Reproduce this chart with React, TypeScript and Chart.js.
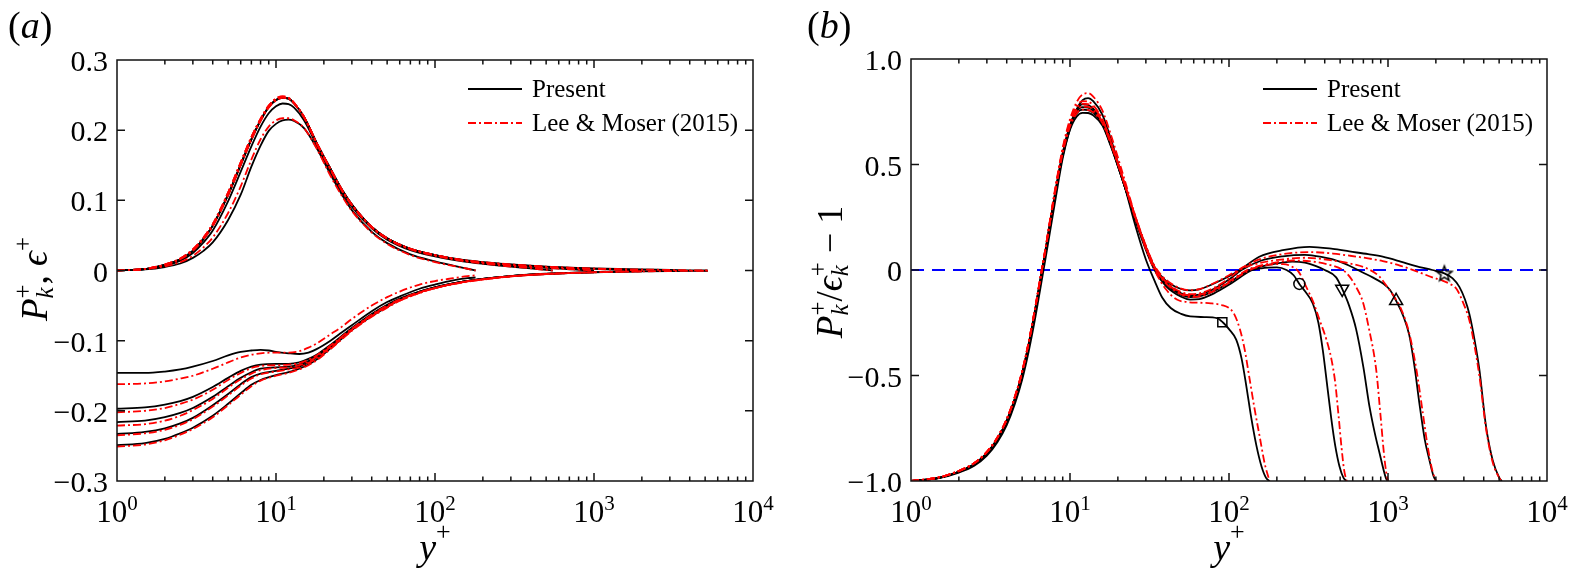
import { useEffect, useRef } from "react"
import { Chart, registerables } from "chart.js"

Chart.register(...registerables)

type Pt = [number, number]

// ---------- panel (a): production P_k^+ (> 0) and dissipation -eps^+ (< 0) ----------
const prodPresent180: Pt[] = [[1,0.0003],[1.5,0.0015],[2,0.005],[2.5,0.010],[3,0.018],[3.5,0.028],[4,0.040],[5,0.072],[6,0.108],[7,0.148],[8,0.178],[9,0.199],[10,0.209],[11,0.214],[12,0.215],[13,0.213],[15,0.203],[18,0.175],[22,0.137],[26,0.108],[30,0.086],[40,0.055],[50,0.039],[70,0.023],[100,0.013],[130,0.007],[160,0.0025],[180,0]]
const prodLM180: Pt[] = [[1,0.0003],[1.5,0.002],[2,0.006],[2.5,0.012],[3,0.021],[3.5,0.033],[4,0.047],[5,0.082],[6,0.120],[7,0.158],[8,0.187],[9,0.205],[10,0.214],[11,0.217],[12,0.217],[13,0.214],[15,0.203],[18,0.174],[22,0.135],[26,0.106],[30,0.085],[40,0.054],[50,0.038],[70,0.022],[100,0.012],[130,0.0065],[160,0.0025],[180,0]]
const prodPresent550: Pt[] = [[1,0.0003],[1.5,0.002],[2,0.007],[2.5,0.014],[3,0.025],[3.5,0.040],[4,0.057],[5,0.099],[6,0.141],[7,0.177],[8,0.205],[9,0.224],[10,0.234],[11,0.238],[12,0.237],[13,0.232],[15,0.214],[18,0.179],[22,0.141],[26,0.112],[30,0.091],[40,0.060],[50,0.044],[70,0.029],[100,0.020],[150,0.013],[200,0.0095],[300,0.0055],[400,0.003],[480,0.0012],[550,0]]
const prodLM550: Pt[] = [[1,0.0003],[1.5,0.002],[2,0.008],[2.5,0.016],[3,0.028],[3.5,0.045],[4,0.063],[5,0.107],[6,0.150],[7,0.186],[8,0.213],[9,0.232],[10,0.242],[11,0.246],[12,0.245],[13,0.238],[15,0.219],[18,0.182],[22,0.144],[26,0.114],[30,0.093],[40,0.061],[50,0.045],[70,0.030],[100,0.021],[150,0.0135],[200,0.0098],[300,0.0057],[400,0.0032],[480,0.0013],[550,0]]
const prodPresent1000: Pt[] = [[1,0.0003],[1.5,0.002],[2,0.008],[2.5,0.016],[3,0.028],[3.5,0.045],[4,0.064],[5,0.108],[6,0.151],[7,0.187],[8,0.214],[9,0.233],[10,0.243],[11,0.246],[12,0.245],[13,0.238],[15,0.219],[18,0.182],[22,0.145],[26,0.115],[30,0.094],[40,0.062],[50,0.046],[70,0.031],[100,0.022],[150,0.0145],[200,0.011],[300,0.0074],[500,0.0038],[700,0.0018],[850,0.0007],[1000,0]]
const prodLM1000: Pt[] = [[1,0.0003],[1.5,0.0022],[2,0.0085],[2.5,0.017],[3,0.030],[3.5,0.047],[4,0.066],[5,0.111],[6,0.154],[7,0.190],[8,0.216],[9,0.234],[10,0.244],[11,0.247],[12,0.245],[13,0.238],[15,0.218],[18,0.181],[22,0.144],[26,0.114],[30,0.093],[40,0.062],[50,0.046],[70,0.031],[100,0.022],[150,0.0145],[200,0.011],[300,0.0074],[500,0.0038],[700,0.0019],[850,0.0008],[1000,0]]
const prodPresent2000: Pt[] = [[1,0.0003],[1.5,0.002],[2,0.008],[2.5,0.016],[3,0.028],[3.5,0.045],[4,0.064],[5,0.108],[6,0.151],[7,0.187],[8,0.214],[9,0.233],[10,0.243],[11,0.246],[12,0.245],[13,0.238],[15,0.219],[18,0.182],[22,0.145],[26,0.115],[30,0.094],[40,0.062],[50,0.046],[70,0.031],[100,0.022],[150,0.0148],[200,0.0115],[300,0.0082],[500,0.0052],[700,0.0036],[1000,0.0022],[1400,0.0011],[1700,0.0005],[2000,0]]
const prodLM2000: Pt[] = [[1,0.0003],[1.5,0.0022],[2,0.0085],[2.5,0.017],[3,0.030],[3.5,0.047],[4,0.066],[5,0.111],[6,0.154],[7,0.190],[8,0.216],[9,0.235],[10,0.245],[11,0.248],[12,0.246],[13,0.239],[15,0.219],[18,0.182],[22,0.145],[26,0.115],[30,0.094],[40,0.062],[50,0.046],[70,0.031],[100,0.022],[150,0.0148],[200,0.0115],[300,0.0082],[500,0.0052],[700,0.0036],[1000,0.0022],[1400,0.0011],[1700,0.0005],[2000,0]]
const prodPresent5200: Pt[] = [[1,0.0003],[1.5,0.002],[2,0.008],[2.5,0.016],[3,0.028],[3.5,0.045],[4,0.064],[5,0.108],[6,0.151],[7,0.187],[8,0.214],[9,0.233],[10,0.243],[11,0.246],[12,0.245],[13,0.238],[15,0.219],[18,0.182],[22,0.145],[26,0.115],[30,0.094],[40,0.062],[50,0.046],[70,0.031],[100,0.022],[150,0.015],[200,0.012],[300,0.0088],[500,0.0056],[700,0.0041],[1000,0.0029],[2000,0.0014],[3000,0.0008],[4000,0.0003],[5200,0]]
const prodLM5200: Pt[] = [[1,0.0003],[1.5,0.0022],[2,0.0085],[2.5,0.017],[3,0.030],[3.5,0.047],[4,0.066],[5,0.111],[6,0.154],[7,0.190],[8,0.216],[9,0.235],[10,0.245],[11,0.248],[12,0.246],[13,0.239],[15,0.219],[18,0.182],[22,0.145],[26,0.115],[30,0.094],[40,0.062],[50,0.046],[70,0.031],[100,0.022],[150,0.015],[200,0.012],[300,0.0088],[500,0.0056],[700,0.0041],[1000,0.0029],[2000,0.0014],[3000,0.0008],[4000,0.0003],[5200,0]]

const dissPresent180: Pt[] = [[1,-0.146],[1.5,-0.146],[2,-0.144],[2.5,-0.141],[3,-0.137],[4,-0.129],[5,-0.121],[6,-0.116],[7,-0.114],[8,-0.113],[9,-0.114],[10,-0.116],[12,-0.118],[14,-0.119],[16,-0.117],[18,-0.112],[22,-0.100],[26,-0.088],[30,-0.078],[40,-0.058],[50,-0.045],[60,-0.037],[80,-0.026],[100,-0.020],[130,-0.014],[160,-0.011],[180,-0.010]]
const dissLM180: Pt[] = [[1,-0.162],[1.5,-0.161],[2,-0.158],[2.5,-0.154],[3,-0.150],[4,-0.140],[5,-0.131],[6,-0.124],[7,-0.120],[8,-0.118],[10,-0.117],[12,-0.117],[14,-0.115],[16,-0.110],[18,-0.104],[22,-0.091],[26,-0.080],[30,-0.069],[40,-0.050],[50,-0.038],[60,-0.030],[80,-0.020],[100,-0.015],[130,-0.011],[160,-0.008],[180,-0.007]]
const dissPresent550: Pt[] = [[1,-0.197],[1.5,-0.195],[2,-0.191],[2.5,-0.186],[3,-0.180],[4,-0.166],[5,-0.153],[6,-0.143],[7,-0.137],[8,-0.134],[10,-0.133],[12,-0.133],[14,-0.131],[16,-0.126],[18,-0.120],[22,-0.106],[26,-0.093],[30,-0.082],[40,-0.062],[50,-0.049],[60,-0.040],[80,-0.030],[100,-0.024],[150,-0.016],[200,-0.012],[300,-0.008],[400,-0.0055],[550,-0.004]]
const dissLM550: Pt[] = [[1,-0.202],[1.5,-0.200],[2,-0.196],[2.5,-0.190],[3,-0.184],[4,-0.170],[5,-0.156],[6,-0.146],[7,-0.139],[8,-0.136],[10,-0.135],[12,-0.134],[14,-0.132],[16,-0.127],[18,-0.121],[22,-0.107],[26,-0.094],[30,-0.083],[40,-0.063],[50,-0.050],[60,-0.041],[80,-0.031],[100,-0.025],[150,-0.017],[200,-0.013],[300,-0.0085],[400,-0.006],[550,-0.0045]]
const dissPresent1000: Pt[] = [[1,-0.216],[1.5,-0.214],[2,-0.209],[2.5,-0.203],[3,-0.196],[4,-0.180],[5,-0.165],[6,-0.153],[7,-0.145],[8,-0.140],[10,-0.138],[12,-0.137],[14,-0.134],[16,-0.129],[18,-0.122],[22,-0.108],[26,-0.095],[30,-0.083],[40,-0.063],[50,-0.050],[60,-0.041],[80,-0.030],[100,-0.024],[150,-0.016],[200,-0.012],[300,-0.008],[500,-0.0048],[700,-0.0035],[1000,-0.0025]]
const dissLM1000: Pt[] = [[1,-0.221],[1.5,-0.219],[2,-0.214],[2.5,-0.207],[3,-0.199],[4,-0.183],[5,-0.167],[6,-0.155],[7,-0.147],[8,-0.142],[10,-0.139],[12,-0.138],[14,-0.135],[16,-0.130],[18,-0.123],[22,-0.109],[26,-0.095],[30,-0.084],[40,-0.064],[50,-0.051],[60,-0.042],[80,-0.031],[100,-0.025],[150,-0.0165],[200,-0.0125],[300,-0.0082],[500,-0.005],[700,-0.0036],[1000,-0.0026]]
const dissPresent2000: Pt[] = [[1,-0.233],[1.5,-0.230],[2,-0.225],[2.5,-0.218],[3,-0.210],[4,-0.192],[5,-0.176],[6,-0.162],[7,-0.152],[8,-0.147],[10,-0.143],[12,-0.140],[14,-0.137],[16,-0.131],[18,-0.124],[22,-0.109],[26,-0.096],[30,-0.084],[40,-0.064],[50,-0.051],[60,-0.042],[80,-0.031],[100,-0.024],[150,-0.016],[200,-0.012],[300,-0.008],[500,-0.0049],[1000,-0.0024],[2000,-0.0012]]
const dissLM2000: Pt[] = [[1,-0.235],[1.5,-0.232],[2,-0.227],[2.5,-0.220],[3,-0.212],[4,-0.194],[5,-0.178],[6,-0.164],[7,-0.154],[8,-0.148],[10,-0.144],[12,-0.141],[14,-0.138],[16,-0.132],[18,-0.125],[22,-0.110],[26,-0.097],[30,-0.085],[40,-0.065],[50,-0.052],[60,-0.043],[80,-0.032],[100,-0.025],[150,-0.0165],[200,-0.0125],[300,-0.0083],[500,-0.005],[1000,-0.0025],[2000,-0.0013]]
const dissPresent5200: Pt[] = [[1,-0.249],[1.5,-0.246],[2,-0.240],[2.5,-0.232],[3,-0.224],[4,-0.207],[5,-0.190],[6,-0.175],[7,-0.163],[8,-0.156],[10,-0.149],[12,-0.145],[14,-0.140],[16,-0.134],[18,-0.127],[22,-0.111],[26,-0.097],[30,-0.085],[40,-0.065],[50,-0.052],[60,-0.042],[80,-0.031],[100,-0.025],[150,-0.016],[200,-0.012],[300,-0.008],[500,-0.005],[1000,-0.0025],[2000,-0.0012],[3000,-0.0007],[5200,-0.0004]]
const dissLM5200: Pt[] = [[1,-0.251],[1.5,-0.248],[2,-0.242],[2.5,-0.234],[3,-0.226],[4,-0.209],[5,-0.192],[6,-0.177],[7,-0.165],[8,-0.157],[10,-0.150],[12,-0.146],[14,-0.141],[16,-0.135],[18,-0.128],[22,-0.112],[26,-0.098],[30,-0.086],[40,-0.066],[50,-0.053],[60,-0.043],[80,-0.032],[100,-0.025],[150,-0.0165],[200,-0.0125],[300,-0.0083],[500,-0.0052],[1000,-0.0026],[2000,-0.0013],[3000,-0.0008],[5200,-0.0004]]

// ---------- panel (b): P_k^+ / eps_k^+ - 1 ----------
const ratioPresent180: Pt[] = [[1,-1.0],[1.5,-0.986],[2,-0.96],[2.5,-0.928],[3,-0.88],[3.5,-0.815],[4,-0.735],[4.5,-0.635],[5,-0.52],[5.5,-0.385],[6,-0.24],[6.5,-0.09],[7,0.05],[8,0.31],[9,0.53],[10,0.67],[11,0.76],[12,0.805],[13,0.815],[14,0.80],[16,0.735],[18,0.625],[22,0.40],[26,0.20],[30,0.05],[34,-0.05],[38,-0.13],[43,-0.18],[50,-0.208],[57,-0.22],[70,-0.223],[84,-0.228],[92,-0.25],[100,-0.28],[111,-0.33],[120,-0.42],[128.5,-0.55],[138,-0.70],[148.5,-0.83],[160,-0.93],[171,-0.985],[180,-1.0]]
const ratioLM180: Pt[] = [[1,-1.0],[1.5,-0.983],[2,-0.952],[2.5,-0.915],[3,-0.862],[3.5,-0.792],[4,-0.705],[4.5,-0.6],[5,-0.48],[5.5,-0.34],[6,-0.19],[6.5,-0.04],[7,0.10],[8,0.37],[9,0.58],[10,0.715],[11,0.795],[12,0.832],[13,0.838],[14,0.822],[16,0.755],[18,0.645],[22,0.43],[26,0.245],[30,0.10],[34,0.0],[40,-0.09],[47,-0.14],[55,-0.152],[65,-0.155],[77,-0.158],[90,-0.166],[100,-0.18],[108,-0.21],[117,-0.28],[125,-0.37],[135,-0.52],[145,-0.66],[156,-0.79],[168,-0.92],[180,-1.0]]
const ratioPresent550: Pt[] = [[1,-1.0],[1.5,-0.985],[2,-0.957],[2.5,-0.922],[3,-0.872],[3.5,-0.805],[4,-0.722],[4.5,-0.62],[5,-0.5],[5.5,-0.36],[6,-0.21],[6.5,-0.06],[7,0.08],[8,0.34],[9,0.55],[10,0.685],[11,0.76],[12,0.785],[13,0.782],[14,0.765],[16,0.70],[18,0.60],[22,0.40],[26,0.225],[30,0.095],[34,0.0],[40,-0.075],[50,-0.127],[57,-0.14],[65,-0.138],[80,-0.112],[100,-0.07],[120,-0.03],[135,-0.005],[160,0.008],[200,0.012],[230,0.0],[255,-0.025],[277,-0.066],[300,-0.10],[337,-0.16],[365,-0.25],[389,-0.38],[415,-0.55],[439,-0.70],[465,-0.83],[495,-0.93],[525,-0.985],[550,-1.0]]
const ratioLM550: Pt[] = [[1,-1.0],[1.5,-0.983],[2,-0.953],[2.5,-0.916],[3,-0.864],[3.5,-0.795],[4,-0.71],[4.5,-0.605],[5,-0.485],[5.5,-0.345],[6,-0.195],[6.5,-0.045],[7,0.095],[8,0.36],[9,0.57],[10,0.705],[11,0.778],[12,0.80],[13,0.798],[14,0.78],[16,0.715],[18,0.612],[22,0.41],[26,0.235],[30,0.105],[34,0.01],[40,-0.062],[50,-0.115],[57,-0.128],[65,-0.126],[80,-0.10],[100,-0.06],[120,-0.022],[140,0.005],[180,0.025],[220,0.028],[250,0.015],[275,-0.01],[306,-0.08],[340,-0.155],[371,-0.236],[410,-0.33],[440,-0.42],[465,-0.53],[490,-0.70],[510,-0.84],[530,-0.95],[545,-0.99],[550,-1.0]]
const ratioPresent1000: Pt[] = [[1,-1.0],[1.5,-0.985],[2,-0.956],[2.5,-0.92],[3,-0.869],[3.5,-0.8],[4,-0.716],[4.5,-0.612],[5,-0.492],[5.5,-0.352],[6,-0.202],[6.5,-0.052],[7,0.088],[8,0.35],[9,0.555],[10,0.685],[11,0.752],[12,0.772],[13,0.77],[14,0.755],[16,0.695],[18,0.597],[22,0.40],[26,0.232],[30,0.103],[34,0.005],[40,-0.066],[50,-0.118],[57,-0.128],[65,-0.125],[80,-0.10],[100,-0.06],[120,-0.02],[140,0.005],[180,0.025],[250,0.04],[300,0.035],[353,0.018],[400,0.0],[472,-0.035],[515,-0.09],[570,-0.17],[630,-0.28],[700,-0.46],[764,-0.645],[830,-0.78],[883,-0.865],[940,-0.95],[975,-0.99],[1000,-1.0]]
const ratioLM1000: Pt[] = [[1,-1.0],[1.5,-0.983],[2,-0.952],[2.5,-0.915],[3,-0.862],[3.5,-0.792],[4,-0.706],[4.5,-0.6],[5,-0.48],[5.5,-0.34],[6,-0.19],[6.5,-0.04],[7,0.10],[8,0.362],[9,0.57],[10,0.70],[11,0.768],[12,0.788],[13,0.786],[14,0.77],[16,0.71],[18,0.61],[22,0.41],[26,0.24],[30,0.11],[34,0.012],[40,-0.058],[50,-0.11],[57,-0.12],[65,-0.118],[80,-0.093],[100,-0.055],[120,-0.015],[140,0.01],[180,0.03],[250,0.045],[350,0.038],[450,0.02],[520,0.0],[572,-0.03],[640,-0.09],[694,-0.15],[760,-0.28],[842,-0.47],[900,-0.70],[940,-0.86],[975,-0.96],[1000,-1.0]]
const ratioPresent2000: Pt[] = [[1,-1.0],[1.5,-0.985],[2,-0.956],[2.5,-0.92],[3,-0.868],[3.5,-0.8],[4,-0.715],[4.5,-0.61],[5,-0.49],[5.5,-0.35],[6,-0.2],[6.5,-0.05],[7,0.09],[8,0.348],[9,0.55],[10,0.678],[11,0.742],[12,0.76],[13,0.758],[14,0.745],[16,0.69],[18,0.594],[22,0.40],[26,0.236],[30,0.107],[34,0.01],[40,-0.06],[50,-0.11],[57,-0.12],[65,-0.117],[80,-0.09],[100,-0.045],[120,0.0],[160,0.045],[218,0.065],[300,0.072],[353,0.066],[450,0.05],[572,0.02],[694,-0.012],[800,-0.035],[927,-0.063],[1030,-0.095],[1125,-0.146],[1250,-0.22],[1362,-0.31],[1470,-0.46],[1574,-0.63],[1700,-0.80],[1820,-0.90],[1930,-0.975],[2000,-1.0]]
const ratioLM2000: Pt[] = [[1,-1.0],[1.5,-0.983],[2,-0.952],[2.5,-0.915],[3,-0.862],[3.5,-0.793],[4,-0.707],[4.5,-0.602],[5,-0.482],[5.5,-0.342],[6,-0.192],[6.5,-0.042],[7,0.098],[8,0.36],[9,0.565],[10,0.692],[11,0.756],[12,0.775],[13,0.773],[14,0.758],[16,0.70],[18,0.605],[22,0.41],[26,0.243],[30,0.113],[34,0.015],[40,-0.055],[50,-0.104],[57,-0.114],[65,-0.111],[80,-0.085],[100,-0.04],[120,0.005],[160,0.035],[218,0.05],[300,0.058],[450,0.045],[600,0.028],[750,0.005],[880,-0.03],[1000,-0.085],[1100,-0.13],[1200,-0.18],[1350,-0.29],[1500,-0.46],[1650,-0.67],[1780,-0.84],[1900,-0.95],[2000,-1.0]]
const ratioPresent5200: Pt[] = [[1,-1.0],[1.5,-0.985],[2,-0.956],[2.5,-0.92],[3,-0.868],[3.5,-0.8],[4,-0.714],[4.5,-0.61],[5,-0.49],[5.5,-0.35],[6,-0.2],[6.5,-0.05],[7,0.088],[8,0.342],[9,0.54],[10,0.665],[11,0.727],[12,0.745],[13,0.744],[14,0.733],[16,0.684],[18,0.59],[22,0.40],[26,0.24],[30,0.11],[34,0.015],[40,-0.05],[50,-0.09],[57,-0.097],[65,-0.092],[80,-0.065],[100,-0.03],[117,0.0],[155,0.063],[218,0.094],[321,0.11],[450,0.10],[572,0.088],[750,0.075],[927,0.063],[1200,0.04],[1500,0.018],[1900,0.0],[2262,-0.016],[2550,-0.04],[2811,-0.08],[3050,-0.14],[3251,-0.21],[3500,-0.33],[3753,-0.47],[4133,-0.74],[4549,-0.90],[5012,-0.985],[5200,-1.0]]
const ratioLM5200: Pt[] = [[1,-1.0],[1.5,-0.983],[2,-0.952],[2.5,-0.915],[3,-0.862],[3.5,-0.794],[4,-0.708],[4.5,-0.603],[5,-0.483],[5.5,-0.343],[6,-0.193],[6.5,-0.043],[7,0.097],[8,0.355],[9,0.555],[10,0.68],[11,0.742],[12,0.76],[13,0.758],[14,0.747],[16,0.696],[18,0.60],[22,0.408],[26,0.246],[30,0.115],[34,0.02],[40,-0.045],[50,-0.088],[57,-0.096],[65,-0.091],[80,-0.063],[100,-0.025],[117,0.005],[155,0.05],[218,0.075],[321,0.085],[450,0.078],[572,0.068],[750,0.055],[927,0.042],[1200,0.02],[1500,-0.005],[1900,-0.035],[2200,-0.05],[2432,-0.065],[2700,-0.09],[2950,-0.15],[3251,-0.24],[3500,-0.36],[3753,-0.50],[4133,-0.75],[4549,-0.91],[5012,-0.985],[5200,-1.0]]

// open symbols marking y = h/2 on the present curves of panel (b)
const markerSquare: Pt = [90.8, -0.248]
const markerCircle: Pt = [277, -0.066]
const markerTriDown: Pt = [515, -0.09]
const markerTriUp: Pt = [1125, -0.146]
const markerStar: Pt = [2262, -0.016]
const zeroLine: Pt[] = [[1, 0], [10000, 0]]

const xDecades = [0, 1, 2, 3, 4]
const yTicksA = [-0.3, -0.2, -0.1, 0, 0.1, 0.2, 0.3]
const yLabelsA = ["\u22120.3", "\u22120.2", "\u22120.1", "0", "0.1", "0.2", "0.3"]
const yTicksB = [-1, -0.5, 0, 0.5, 1]
const yLabelsB = ["\u22121.0", "\u22120.5", "0", "0.5", "1.0"]
const legendLabels = ["Present", "Lee & Moser (2015)"]

const INK = "#111"
const RED = "#ff0000"
const BLUE = "#0000ff"
const SERIF = '"Liberation Serif", "Times New Roman", "DejaVu Serif", serif'
const DASH_DOT = [8, 3, 2, 3]
const LINE_W = 1.8
const MAJOR = 8
const MINOR = 4.5

type Run = { t: string; px: number; it?: boolean; dy?: number; stack?: boolean }

const fontOf = (r: Run) => `${r.it ? "italic " : ""}${r.px}px ${SERIF}`

function runsWidth(ctx: CanvasRenderingContext2D, runs: Run[]) {
  let w = 0
  let i = 0
  while (i < runs.length) {
    ctx.font = fontOf(runs[i])
    const w1 = ctx.measureText(runs[i].t).width
    if (runs[i].stack && i + 1 < runs.length) {
      ctx.font = fontOf(runs[i + 1])
      w += Math.max(w1, ctx.measureText(runs[i + 1].t).width)
      i += 2
    } else {
      w += w1
      i += 1
    }
  }
  return w
}

function drawRuns(ctx: CanvasRenderingContext2D, runs: Run[], x: number, y: number) {
  let cx = x
  let i = 0
  while (i < runs.length) {
    const r = runs[i]
    ctx.font = fontOf(r)
    ctx.fillText(r.t, cx, y + (r.dy || 0))
    const w1 = ctx.measureText(r.t).width
    if (r.stack && i + 1 < runs.length) {
      const s = runs[i + 1]
      ctx.font = fontOf(s)
      ctx.fillText(s.t, cx, y + (s.dy || 0))
      cx += Math.max(w1, ctx.measureText(s.t).width)
      i += 2
    } else {
      cx += w1
      i += 1
    }
  }
}

const sub = (t: string): Run => ({ t, px: 25, it: true, dy: 6, stack: true })
const sup = (t: string): Run => ({ t, px: 25, dy: -16 })

const titleA: Run[] = [{ t: "P", px: 37, it: true }, sub("k"), sup("+"), { t: ", ", px: 37 }, { t: "\u03f5", px: 37, it: true }, sup("+")]
const titleB: Run[] = [
  { t: "P", px: 37, it: true }, sub("k"), sup("+"), { t: "/", px: 37 },
  { t: "\u03f5", px: 37, it: true }, sub("k"), sup("+"), { t: " \u2212 1", px: 36 },
]

interface PanelSpec {
  width: number
  padding: { left: number; right: number; top: number; bottom: number }
  yMin: number
  yMax: number
  yTicks: number[]
  yLabels: string[]
  tag: string
  tagX: number
  title: Run[]
  titleX: number
  titleY: number
  legendX: number
  datasets: () => any[]
}

function line(pts: Pt[], lm: boolean) {
  return {
    data: pts.map(([x, y]) => ({ x, y })),
    showLine: true,
    borderColor: lm ? RED : "#000",
    borderWidth: LINE_W,
    borderDash: lm ? DASH_DOT : [],
    pointRadius: 0,
    fill: false,
    cubicInterpolationMode: "monotone",
    order: lm ? 1 : 2,
  }
}

function marker(p: Pt, style: any, radius: number, rotation = 0) {
  return {
    data: [{ x: p[0], y: p[1] }],
    showLine: false,
    pointStyle: style,
    pointRadius: radius,
    pointRotation: rotation,
    pointBorderColor: "#000",
    pointBackgroundColor: "rgba(0,0,0,0)",
    pointBorderWidth: 1.5,
    order: 0,
  }
}

function starImage() {
  const c = document.createElement("canvas")
  c.width = 20
  c.height = 20
  const g = c.getContext("2d")!
  g.strokeStyle = "#000"
  g.lineWidth = 1.5
  g.beginPath()
  for (let i = 0; i < 10; i++) {
    const r = i % 2 === 0 ? 8 : 3.4
    const a = -Math.PI / 2 + (i * Math.PI) / 5
    const px = 10 + r * Math.cos(a)
    const py = 10.5 + r * Math.sin(a)
    if (i === 0) g.moveTo(px, py)
    else g.lineTo(px, py)
  }
  g.closePath()
  g.stroke()
  return c
}

function decor(spec: PanelSpec) {
  return {
    id: "decor",
    afterDatasetsDraw(chart: any) {
      const { ctx, chartArea: a } = chart
      const xs = chart.scales.x
      const ys = chart.scales.y
      ctx.save()
      ctx.strokeStyle = INK
      ctx.lineWidth = 1.5
      ctx.setLineDash([])
      ctx.beginPath()
      ctx.rect(a.left, a.top, a.right - a.left, a.bottom - a.top)
      for (const v of spec.yTicks) {
        const py = ys.getPixelForValue(v)
        ctx.moveTo(a.left, py)
        ctx.lineTo(a.left + MAJOR, py)
        ctx.moveTo(a.right, py)
        ctx.lineTo(a.right - MAJOR, py)
      }
      for (const d of xDecades) {
        for (let k = 1; k <= 9; k++) {
          const v = k * 10 ** d
          if (v > 10000) break
          const px = xs.getPixelForValue(v)
          const len = k === 1 ? MAJOR : MINOR
          ctx.moveTo(px, a.bottom)
          ctx.lineTo(px, a.bottom - len)
          ctx.moveTo(px, a.top)
          ctx.lineTo(px, a.top + len)
        }
      }
      ctx.stroke()

      ctx.fillStyle = "#000"
      ctx.textBaseline = "alphabetic"
      ctx.font = `30px ${SERIF}`
      ctx.textAlign = "right"
      spec.yTicks.forEach((v, i) => ctx.fillText(spec.yLabels[i], a.left - 9, ys.getPixelForValue(v) + 11))
      ctx.textAlign = "left"
      for (const d of xDecades) {
        const runs: Run[] = [{ t: "10", px: 31 }, { t: String(d), px: 21, dy: -12 }]
        const w = runsWidth(ctx, runs)
        drawRuns(ctx, runs, xs.getPixelForValue(10 ** d) - w / 2, a.bottom + 41)
      }

      // x title
      const xt: Run[] = [{ t: "y", px: 38, it: true }, { t: "+", px: 26, dy: -20 }]
      drawRuns(ctx, xt, (a.left + a.right) / 2 - runsWidth(ctx, xt) / 2, 560)

      // y title, rotated
      ctx.save()
      ctx.translate(spec.titleX, spec.titleY)
      ctx.rotate(-Math.PI / 2)
      drawRuns(ctx, spec.title, -runsWidth(ctx, spec.title) / 2, 0)
      ctx.restore()

      // panel tag
      drawRuns(ctx, [{ t: "(", px: 38 }, { t: spec.tag, px: 38, it: true }, { t: ")", px: 38 }], spec.tagX, 38)

      // legend
      const rows = [89, 123]
      rows.forEach((ry, i) => {
        ctx.beginPath()
        ctx.strokeStyle = i === 0 ? "#000" : RED
        ctx.lineWidth = LINE_W
        ctx.setLineDash(i === 0 ? [] : DASH_DOT)
        ctx.moveTo(spec.legendX, ry)
        ctx.lineTo(spec.legendX + 54, ry)
        ctx.stroke()
        ctx.setLineDash([])
        ctx.font = `25px ${SERIF}`
        ctx.fillText(legendLabels[i], spec.legendX + 64, ry + 8)
      })
      ctx.restore()
    },
  }
}

function Panel({ spec, left }: { spec: PanelSpec; left: number }) {
  const ref = useRef<HTMLCanvasElement>(null)

  useEffect(() => {
    if (!ref.current) return
    const chart = new Chart(ref.current, {
      type: "scatter",
      data: { datasets: spec.datasets() },
      options: {
        responsive: false,
        animation: false,
        events: [],
        layout: { padding: spec.padding },
        plugins: { legend: { display: false }, tooltip: { enabled: false } },
        scales: {
          x: { type: "logarithmic", min: 1, max: 10000, display: false },
          y: { type: "linear", min: spec.yMin, max: spec.yMax, display: false },
        },
      } as any,
      plugins: [decor(spec)],
    })
    return () => chart.destroy()
  }, [spec])

  return <canvas ref={ref} width={spec.width} height={573} style={{ position: "absolute", left, top: 0 }} />
}

const specA: PanelSpec = {
  width: 784,
  padding: { left: 117, right: 31, top: 60, bottom: 92 },
  yMin: -0.3,
  yMax: 0.3,
  yTicks: yTicksA,
  yLabels: yLabelsA,
  tag: "a",
  tagX: 8,
  title: titleA,
  titleX: 47,
  titleY: 279,
  legendX: 468,
  datasets: () => [
    line(prodLM180, true), line(prodLM550, true), line(prodLM1000, true), line(prodLM2000, true), line(prodLM5200, true),
    line(dissLM180, true), line(dissLM550, true), line(dissLM1000, true), line(dissLM2000, true), line(dissLM5200, true),
    line(prodPresent180, false), line(prodPresent550, false), line(prodPresent1000, false), line(prodPresent2000, false), line(prodPresent5200, false),
    line(dissPresent180, false), line(dissPresent550, false), line(dissPresent1000, false), line(dissPresent2000, false), line(dissPresent5200, false),
  ],
}

const specB: PanelSpec = {
  width: 785,
  padding: { left: 127, right: 22, top: 59, bottom: 92 },
  yMin: -1,
  yMax: 1,
  yTicks: yTicksB,
  yLabels: yLabelsB,
  tag: "b",
  tagX: 23,
  title: titleB,
  titleX: 58,
  titleY: 272,
  legendX: 479,
  datasets: () => [
    { ...line(zeroLine, false), borderColor: BLUE, borderWidth: 2, borderDash: [13, 8], cubicInterpolationMode: "default", order: 3 },
    line(ratioLM180, true), line(ratioLM550, true), line(ratioLM1000, true), line(ratioLM2000, true), line(ratioLM5200, true),
    line(ratioPresent180, false), line(ratioPresent550, false), line(ratioPresent1000, false), line(ratioPresent2000, false), line(ratioPresent5200, false),
    marker(markerSquare, "rect", 6.4),
    marker(markerCircle, "circle", 5.5),
    marker(markerTriDown, "triangle", 7.5, 180),
    marker(markerTriUp, "triangle", 7.5),
    marker(markerStar, starImage(), 8),
  ],
}

export default function App() {
  return (
    <div style={{ position: "absolute", left: 0, top: 0, width: 1569, height: 573, background: "#fff" }}>
      <Panel spec={specA} left={0} />
      <Panel spec={specB} left={784} />
    </div>
  )
}
